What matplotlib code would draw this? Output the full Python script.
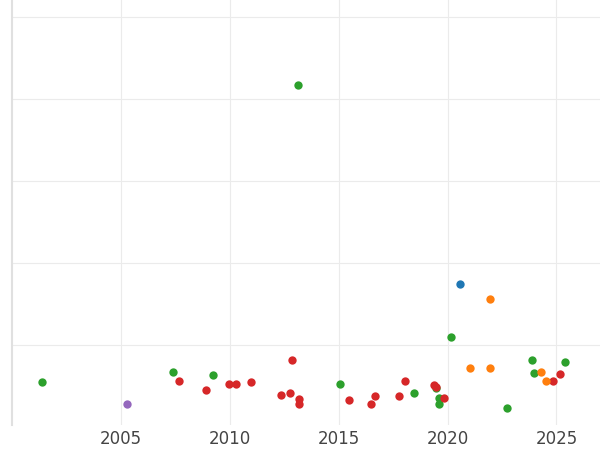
import matplotlib
matplotlib.use("Agg")
import matplotlib.pyplot as plt

def yr(px): return round(2005 + (px - 122) / 21.8, 2)
def val(py): return round((427 - py) / 82, 3)

green_x = [yr(p) for p in [43,174,214,299,341,415,437,440,440,452,509,534,536,567]]
green_y = [val(p) for p in [382,372,375,85,384,393,388,398,404,337,408,360,373,362]]
purple_x = [yr(128)]
purple_y = [val(404)]
red_x = [yr(p) for p in [180,207,230,237,252,282,291,293,300,300,350,372,376,400,406,435,437,445,554,562]]
red_y = [val(p) for p in [381,390,384,384,382,395,393,360,399,404,400,404,396,396,381,385,387,398,381,374]]
orange_x = [yr(p) for p in [471,492,492,543,547]]
orange_y = [val(p) for p in [368,299,368,372,381]]
blue_x = [yr(461)]
blue_y = [val(284)]

fig = plt.figure(figsize=(6, 4.5), dpi=100)
ax = fig.add_axes([0.02, 0.055, 0.98, 0.945])
for xs, ys, c in [(green_x, green_y, "#2ca02c"), (purple_x, purple_y, "#9467bd"),
                  (red_x, red_y, "#d62728"), (orange_x, orange_y, "#ff7f0e"),
                  (blue_x, blue_y, "#1f77b4")]:
    ax.scatter(xs, ys, color=c, s=36, zorder=3, linewidths=0)
ax.set_xlim(2000, 2027)
ax.set_ylim((427 - 425) / 82, 427 / 82)
ax.set_xticks([2005, 2010, 2015, 2020, 2025])
ax.set_yticks([1, 2, 3, 4, 5])
ax.set_yticklabels([])
ax.tick_params(length=0, labelsize=12, colors="#444444")
ax.grid(True, color="#ebebeb", linewidth=0.8)
for s in ["top", "right", "bottom"]:
    ax.spines[s].set_visible(False)
ax.spines["left"].set_color("#e0e0e0")
ax.spines["left"].set_linewidth(1.5)
fig.savefig("out.png")
